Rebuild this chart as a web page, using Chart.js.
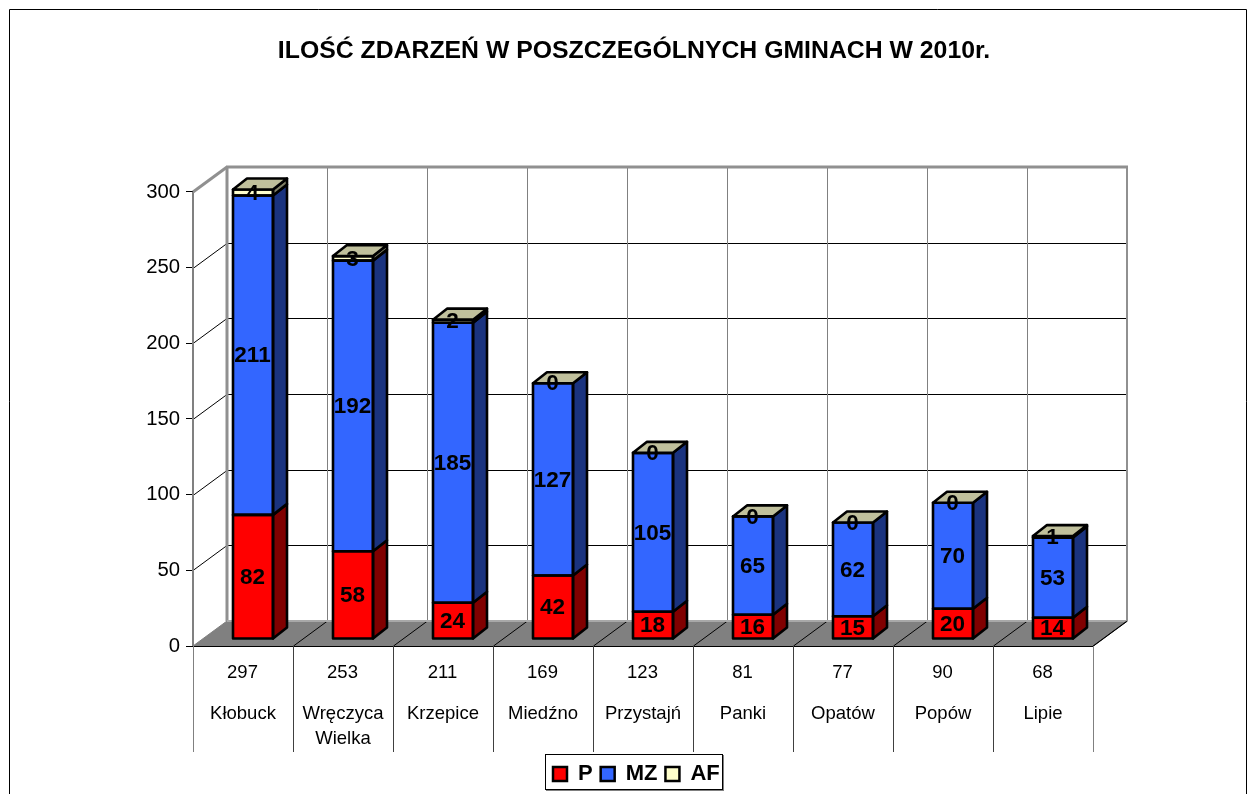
<!DOCTYPE html>
<html><head><meta charset="utf-8">
<style>html,body{margin:0;padding:0;background:#fff}canvas{display:block}</style>
<script src="https://cdn.jsdelivr.net/npm/chart.js@4/dist/chart.umd.min.js"></script>
</head><body>
<canvas id="c" width="1257" height="794"></canvas>
<script>
const categories = [["Kłobuck"],["Wręczyca","Wielka"],["Krzepice"],["Miedźno"],["Przystajń"],["Panki"],["Opatów"],["Popów"],["Lipie"]];
const totals = [297,253,211,169,123,81,77,90,68];
const valuesP  = [82,58,24,42,18,16,15,20,14];
const valuesMZ = [211,192,185,127,105,65,62,70,53];
const valuesAF = [4,3,2,0,0,0,0,0,1];
const titleText = "ILOŚĆ ZDARZEŃ W POSZCZEGÓLNYCH GMINACH W 2010r.";

const FONT = '"Liberation Sans", Arial, sans-serif';
Chart.defaults.font.family = FONT;
Chart.defaults.color = '#000';
const WALL = {dx:34, dy:-25};
const BAR = {sx:10, sy:-7, dx:14, dy:-11, lw:2.6};
const sideColors = ['#800000','#1a337f','#808066'];
const topColor = '#c0c09c';
const LEGEND_X = 545, LEGEND_Y = 755;

function line(ctx,x1,y1,x2,y2,color,w){ctx.beginPath();ctx.moveTo(x1,y1);ctx.lineTo(x2,y2);ctx.strokeStyle=color;ctx.lineWidth=w;ctx.stroke();}

const scene = {
  id:'scene',
  afterLayout(chart){
    const lg = chart.legend;
    lg.left = LEGEND_X; lg.right = LEGEND_X + 400; lg.top = LEGEND_Y; lg.bottom = LEGEND_Y + lg.height;
    const tb = chart.titleBlock; tb.left = 0; tb.right = 1268;
  },
  beforeDraw(chart){
    const c = chart.ctx;
    c.save();
    c.fillStyle='#fff'; c.fillRect(0,0,chart.width,chart.height);
    c.strokeStyle='#000'; c.lineWidth=1;
    c.beginPath(); c.moveTo(9.5,chart.height); c.lineTo(9.5,9.5); c.lineTo(1246.5,9.5); c.lineTo(1246.5,chart.height); c.stroke();
    c.fillStyle='#808080'; c.fillRect(546,755,178,36);
    c.fillStyle='#fff'; c.fillRect(545,754,178,36);
    c.strokeStyle='#000'; c.strokeRect(545.5,754.5,177,35);
    c.restore();
  },
  beforeDatasetsDraw(chart){
    const c = chart.ctx, y = chart.scales.y, x = chart.scales.x;
    const L = chart.chartArea.left, R = chart.chartArea.right;
    const y0 = y.getPixelForValue(0), yT = y.getPixelForValue(300);
    const n = categories.length, step = (R-L)/n;
    c.save();
    c.fillStyle='#808080';
    c.beginPath(); c.moveTo(L,y0); c.lineTo(R,y0); c.lineTo(R+WALL.dx,y0+WALL.dy); c.lineTo(L+WALL.dx,y0+WALL.dy); c.closePath(); c.fill();
    y.ticks.forEach(t=>{
      const p = Math.round(y.getPixelForValue(t.value))+0.5;
      if(t.value>0 && t.value<300){
        line(c,L,p,L+WALL.dx,p+WALL.dy,'#000',1);
        line(c,L+WALL.dx,p+WALL.dy,R+WALL.dx,p+WALL.dy,'#000',1);
      }
    });
    for(let i=1;i<n;i++){ const px=Math.round(L+step*i+WALL.dx)+0.5; line(c,px,yT+WALL.dy,px,y0+WALL.dy,'#808080',1); }
    for(let i=1;i<=n;i++){ const px=L+step*i; line(c,px+0.5,y0,px+WALL.dx+0.5,y0+WALL.dy,'#000',1); }
    line(c,L,yT,L,y0,'#808080',2);
    line(c,L,y0,L+WALL.dx,y0+WALL.dy,'#808080',1);
    line(c,L+WALL.dx,y0+WALL.dy,L+WALL.dx,yT+WALL.dy,'#909090',3);
    line(c,L,yT,L+WALL.dx,yT+WALL.dy,'#909090',3);
    line(c,L+WALL.dx-1,yT+WALL.dy,R+WALL.dx+1,yT+WALL.dy,'#909090',3);
    line(c,R+WALL.dx,yT+WALL.dy,R+WALL.dx,y0+WALL.dy,'#909090',2);
    line(c,L+WALL.dx,y0+WALL.dy,R+WALL.dx,y0+WALL.dy,'#a8a8a8',2);
    line(c,R,y0,R+WALL.dx,y0+WALL.dy,'#000',1);
    line(c,L,y0+0.5,R,y0+0.5,'#000',1);
    for(let i=0;i<=n;i++){ const px=Math.round(L+step*i)+0.5; line(c,px,y0,px,752,(i===0||i===n)?'#808080':'#404040',1); }
    c.fillStyle='#000'; c.font='18.5px '+FONT; c.textAlign='center'; c.textBaseline='middle';
    totals.forEach((v,i)=>c.fillText(String(v),x.getPixelForValue(i)-0.5,672.5));
    c.restore();
    c.save();
    c.translate(BAR.sx,BAR.sy);
  },
  afterDatasetsDraw(chart){
    const c = chart.ctx;
    c.lineWidth=BAR.lw; c.strokeStyle='#000'; c.lineJoin='round';
    chart.data.datasets.forEach((ds,di)=>{
      chart.getDatasetMeta(di).data.forEach((el)=>{
        const p = el.getProps(['x','y','base','width'],true);
        const l = p.x-p.width/2, r = p.x+p.width/2;
        if(Math.abs(p.base-p.y)>0.01){
          c.fillStyle=sideColors[di];
          c.beginPath(); c.moveTo(r,p.base); c.lineTo(r+BAR.dx,p.base+BAR.dy); c.lineTo(r+BAR.dx,p.y+BAR.dy); c.lineTo(r,p.y); c.closePath(); c.fill(); c.stroke();
          c.strokeRect(l,p.y,p.width,p.base-p.y);
        }
      });
    });
    const last = chart.data.datasets.length-1;
    chart.getDatasetMeta(last).data.forEach(el=>{
      const p = el.getProps(['x','y','width'],true);
      const l = p.x-p.width/2, r = p.x+p.width/2;
      c.fillStyle=topColor;
      c.beginPath(); c.moveTo(l,p.y); c.lineTo(r,p.y); c.lineTo(r+BAR.dx,p.y+BAR.dy); c.lineTo(l+BAR.dx,p.y+BAR.dy); c.closePath(); c.fill(); c.stroke();
    });
    c.fillStyle='#000'; c.font='bold 22.5px '+FONT; c.textAlign='center'; c.textBaseline='middle';
    chart.data.datasets.forEach((ds,di)=>{
      chart.getDatasetMeta(di).data.forEach((el,i)=>{
        const p = el.getProps(['x','y','base'],true);
        c.fillText(String(ds.data[i]),p.x-0.5,(p.y+p.base)/2+1);
      });
    });
    c.restore();
  }
};

new Chart(document.getElementById('c'),{
  type:'bar',
  data:{labels:categories,datasets:[
    {label:'P', data:valuesP, backgroundColor:'#ff0000'},
    {label:'MZ',data:valuesMZ,backgroundColor:'#3366ff'},
    {label:'AF',data:valuesAF,backgroundColor:'#ffffcc'}
  ].map(d=>Object.assign(d,{borderColor:'#000',borderWidth:0,barPercentage:0.4,categoryPercentage:1,clip:false}))},
  options:{
    responsive:false,animation:false,
    layout:{padding:{left:0,right:164,top:0,bottom:0}},
    plugins:{
      tooltip:{enabled:false},
      title:{display:true,text:titleText,font:{size:24.8,weight:'bold'},color:'#000',padding:{top:36,bottom:126.2}},
      legend:{position:'bottom',align:'start',labels:{boxWidth:14,boxHeight:14,padding:8,font:{size:22,weight:'bold'},color:'#000',
        generateLabels(chart){
          return Chart.defaults.plugins.legend.labels.generateLabels(chart).map(o=>Object.assign(o,{lineWidth:2.5,strokeStyle:'#000'}));
        }}}
    },
    scales:{
      x:{stacked:true,grid:{display:false},border:{display:false},
        ticks:{font:{size:18.5,lineHeight:'25px'},color:'#000',padding:47,maxRotation:0,autoSkip:false},
        afterFit(s){ s.height = 148 - ((s.chart.legend&&s.chart.legend.height)||36); }},
      y:{stacked:true,min:0,max:300,
        grid:{drawOnChartArea:false,drawTicks:true,tickLength:7,color:'#000'},border:{display:false},
        ticks:{stepSize:50,font:{size:20.3},color:'#000',padding:6},
        afterFit(s){ s.width = 193; }}
    }
  },
  plugins:[scene]
});
</script>
</body></html>
